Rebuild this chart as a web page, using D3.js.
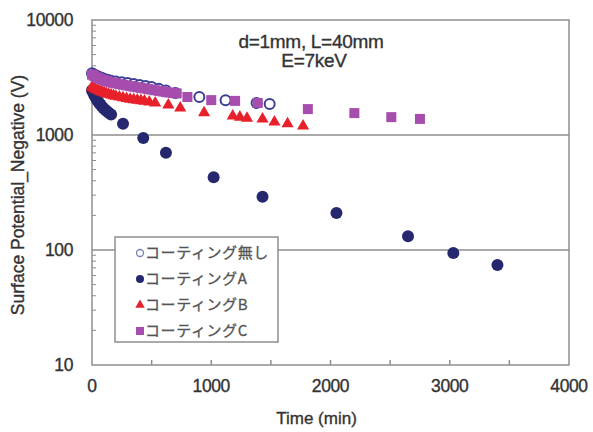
<!DOCTYPE html>
<html>
<head>
<meta charset="utf-8">
<script src="https://d3js.org/d3.v7.min.js"></script>
<style>
  body { margin: 0; background: #fff; }
  text { font-family: "Liberation Sans", Arial, sans-serif; fill: #333; stroke: #333; stroke-width: 0.35px; }
</style>
</head>
<body>
<div id="my_dataviz"></div>
<script>
// data (time in min, surface potential in V)
const noneTime = [0, 20, 40, 60, 80, 100, 130, 160, 200, 250, 300, 350, 400, 450, 500, 560, 620, 700, 900, 1120, 1380, 1490];
const noneVal = [3450, 3350, 3270, 3200, 3140, 3090, 3020, 2970, 2920, 2870, 2830, 2780, 2720, 2670, 2610, 2520, 2440, 2320, 2140, 2010, 1900, 1860];

const aTime = [0, 10, 20, 30, 40, 50, 60, 70, 80, 95, 110, 125, 140, 160, 260, 430, 620, 1020, 1430, 2050, 2650, 3030, 3400];
const aVal = [2450, 2330, 2220, 2130, 2050, 1970, 1900, 1840, 1790, 1720, 1660, 1610, 1560, 1510, 1250, 940, 700, 430, 290, 210, 132, 94, 74];

const bTime = [0, 15, 30, 45, 60, 75, 90, 105, 120, 140, 160, 180, 200, 230, 260, 290, 320, 350, 380, 410, 440, 480, 530, 640, 740, 940, 1180, 1240, 1300, 1430, 1530, 1640, 1770];
const bVal = [2620, 2560, 2500, 2460, 2420, 2380, 2350, 2320, 2290, 2260, 2230, 2200, 2170, 2140, 2110, 2080, 2050, 2030, 2010, 1990, 1970, 1940, 1900, 1820, 1720, 1560, 1460, 1430, 1400, 1380, 1300, 1250, 1200];

const cTime = [0, 15, 30, 45, 60, 80, 100, 120, 140, 160, 180, 200, 230, 260, 290, 320, 350, 380, 410, 440, 470, 500, 530, 560, 590, 620, 650, 680, 710, 800, 1000, 1200, 1390, 1810, 2200, 2510, 2750];
const cVal = [3350, 3280, 3210, 3150, 3100, 3040, 2990, 2950, 2910, 2870, 2840, 2810, 2770, 2730, 2700, 2660, 2630, 2600, 2570, 2540, 2510, 2480, 2450, 2420, 2390, 2360, 2340, 2320, 2300, 2140, 2010, 1980, 1900, 1680, 1550, 1430, 1380];

const seriesNames = ["コーティング無し", "コーティングA", "コーティングB", "コーティングC"];
const yTicks = [10, 100, 1000, 10000];
const xTicks = [0, 1000, 2000, 3000, 4000];

// set the dimensions and margins of the graph
const margin = { top: 20, right: 24, bottom: 67, left: 92 },
  width = 593 - margin.left - margin.right,
  height = 432 - margin.top - margin.bottom;

const svg = d3
  .select("#my_dataviz")
  .append("svg")
  .attr("width", 593)
  .attr("height", 432)
  .append("g")
  .attr("transform", `translate(${margin.left},${margin.top})`);

const x = d3.scaleLinear().domain([0, 4000]).range([0, width]);
const y = d3.scaleLog().domain([10, 10000]).range([height, 0]);

const gray = "#8e8e8e";

// gridlines
svg.selectAll(".grid")
  .data([100, 1000])
  .join("line")
  .attr("x1", 0)
  .attr("x2", width)
  .attr("y1", (d) => y(d))
  .attr("y2", (d) => y(d))
  .attr("stroke", gray)
  .attr("stroke-width", 1.5);

// frame
svg.append("rect")
  .attr("width", width)
  .attr("height", height)
  .attr("fill", "none")
  .attr("stroke", gray)
  .attr("stroke-width", 1.5);

// minor y ticks (inside)
const minor = [];
[10, 100, 1000].forEach((dec) => {
  for (let k = 2; k <= 9; k++) minor.push(dec * k);
});
svg.selectAll(".ytick")
  .data(minor)
  .join("line")
  .attr("x1", 0)
  .attr("x2", 4)
  .attr("y1", (d) => y(d))
  .attr("y2", (d) => y(d))
  .attr("stroke", gray)
  .attr("stroke-width", 1);

// x ticks every 500 (inside)
svg.selectAll(".xtick")
  .data(d3.range(500, 4000, 500))
  .join("line")
  .attr("x1", (d) => x(d))
  .attr("x2", (d) => x(d))
  .attr("y1", height)
  .attr("y2", height - 5)
  .attr("stroke", gray)
  .attr("stroke-width", 1.5);

// tick labels
svg.selectAll(".ylab")
  .data(yTicks)
  .join("text")
  .attr("x", -19)
  .attr("y", (d) => y(d))
  .attr("dy", "0.36em")
  .attr("text-anchor", "end")
  .style("font-size", "17.5px")
  .style("letter-spacing", "-0.4px")
  .text((d) => d);

svg.selectAll(".xlab")
  .data(xTicks)
  .join("text")
  .attr("x", (d) => x(d))
  .attr("y", height + 27)
  .attr("text-anchor", "middle")
  .style("font-size", "17.5px")
  .style("letter-spacing", "-0.4px")
  .text((d) => d);

// axis titles
svg.append("text")
  .attr("x", width / 2 - 14)
  .attr("y", height + 59)
  .attr("text-anchor", "middle")
  .style("font-size", "17px")
  .text("Time (min)");

svg.append("text")
  .attr("transform", `translate(${-92 + 24},${175}) rotate(-90)`)
  .attr("text-anchor", "middle")
  .style("font-size", "17.5px")
  .text("Surface Potential_Negative (V)");

// annotation
svg.append("text")
  .attr("x", 219)
  .attr("y", 28)
  .attr("text-anchor", "middle")
  .style("font-size", "19px")
  .style("letter-spacing", "-0.3px")
  .text("d=1mm, L=40mm");
svg.append("text")
  .attr("x", 222)
  .attr("y", 47)
  .attr("text-anchor", "middle")
  .style("font-size", "19px")
  .style("letter-spacing", "-0.3px")
  .text("E=7keV");

// series
const navy = "#25286e";
const red = "#e8202a";
const purple = "#a64dae";

const zip = (t, v) => t.map((d, i) => ({ t: d, v: v[i] }));

svg.append("g").selectAll("circle")
  .data(zip(noneTime, noneVal))
  .join("circle")
  .attr("cx", (d) => x(d.t))
  .attr("cy", (d) => y(d.v))
  .attr("r", 5)
  .attr("fill", "#fff")
  .attr("stroke", "#3b3f95")
  .attr("stroke-width", 2);

svg.append("g").selectAll("circle")
  .data(zip(aTime, aVal))
  .join("circle")
  .attr("cx", (d) => x(d.t))
  .attr("cy", (d) => y(d.v))
  .attr("r", 6)
  .attr("fill", navy);

const tri = d3.symbol().type(d3.symbolTriangle).size(64);
svg.append("g").selectAll("path")
  .data(zip(bTime, bVal))
  .join("path")
  .attr("transform", (d) => `translate(${x(d.t)},${y(d.v)})`)
  .attr("d", tri)
  .attr("fill", red);

svg.append("g").selectAll("rect")
  .data(zip(cTime, cVal))
  .join("rect")
  .attr("x", (d) => x(d.t) - 5)
  .attr("y", (d) => y(d.v) - 5)
  .attr("width", 10)
  .attr("height", 10)
  .attr("fill", purple);

// legend
const lg = svg.append("g").attr("transform", `translate(${115 - margin.left},${237 - margin.top})`);
lg.append("rect")
  .attr("width", 163)
  .attr("height", 105)
  .attr("fill", "#fff")
  .attr("stroke", gray)
  .attr("stroke-width", 1.5);

const rowY = (i) => 16 + i * 26;
lg.append("circle").attr("cx", 25).attr("cy", rowY(0)).attr("r", 3.5)
  .attr("fill", "#fff").attr("stroke", "#7d80b8").attr("stroke-width", 1.3);
lg.append("circle").attr("cx", 25).attr("cy", rowY(1)).attr("r", 4).attr("fill", navy);
lg.append("path").attr("transform", `translate(25,${rowY(2)})`)
  .attr("d", d3.symbol().type(d3.symbolTriangle).size(38)).attr("fill", red);
lg.append("rect").attr("x", 21).attr("y", rowY(3) - 4).attr("width", 8).attr("height", 8).attr("fill", purple);

lg.selectAll(".ltext")
  .data(seriesNames)
  .join("text")
  .attr("x", 30)
  .attr("y", (d, i) => rowY(i))
  .attr("dy", "0.36em")
  .style("font-family", "'Noto Sans CJK JP', sans-serif")
  .style("font-size", "15px")
  .style("letter-spacing", "0.6px")
  .style("fill", "#555")
  .style("stroke", "#555")
  .style("stroke-width", "0.3px")
  .text((d) => d);
</script>
</body>
</html>
